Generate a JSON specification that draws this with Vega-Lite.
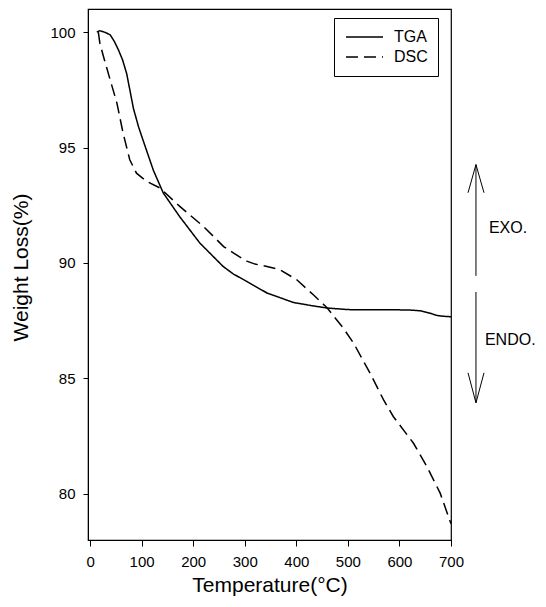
{
  "$schema": "https://vega.github.io/schema/vega-lite/v6.json",
  "width": 363,
  "height": 531,
  "autosize": {"type": "none"},
  "padding": {"left": 88, "top": 9, "right": 95, "bottom": 67},
  "background": "white",
  "config": {
    "font": "Liberation Sans",
    "view": {"stroke": "black", "strokeWidth": 1.2},
    "axis": {
      "grid": false,
      "domainColor": "black",
      "tickColor": "black",
      "labelColor": "black",
      "titleColor": "black",
      "labelFontSize": 15,
      "titleFontSize": 21,
      "titleFontWeight": "normal",
      "labelFont": "Liberation Sans",
      "titleFont": "Liberation Sans"
    }
  },
  "datasets": {
    "curves": [
      {"series": "TGA", "T": 13, "W": 100.0},
      {"series": "TGA", "T": 19, "W": 100.06},
      {"series": "TGA", "T": 30, "W": 99.98},
      {"series": "TGA", "T": 39, "W": 99.88},
      {"series": "TGA", "T": 47, "W": 99.6},
      {"series": "TGA", "T": 55, "W": 99.23},
      {"series": "TGA", "T": 63, "W": 98.8},
      {"series": "TGA", "T": 71, "W": 98.2},
      {"series": "TGA", "T": 78, "W": 97.4},
      {"series": "TGA", "T": 84, "W": 96.7},
      {"series": "TGA", "T": 94, "W": 95.9},
      {"series": "TGA", "T": 103, "W": 95.3},
      {"series": "TGA", "T": 123, "W": 94.0},
      {"series": "TGA", "T": 142, "W": 93.03},
      {"series": "TGA", "T": 174, "W": 92.0},
      {"series": "TGA", "T": 213, "W": 90.86},
      {"series": "TGA", "T": 258, "W": 89.85},
      {"series": "TGA", "T": 278, "W": 89.52},
      {"series": "TGA", "T": 304, "W": 89.2},
      {"series": "TGA", "T": 343, "W": 88.7},
      {"series": "TGA", "T": 368, "W": 88.5},
      {"series": "TGA", "T": 394, "W": 88.29},
      {"series": "TGA", "T": 430, "W": 88.15},
      {"series": "TGA", "T": 459, "W": 88.05},
      {"series": "TGA", "T": 500, "W": 87.98},
      {"series": "TGA", "T": 524, "W": 87.97},
      {"series": "TGA", "T": 595, "W": 87.97},
      {"series": "TGA", "T": 620, "W": 87.96},
      {"series": "TGA", "T": 640, "W": 87.93},
      {"series": "TGA", "T": 660, "W": 87.82},
      {"series": "TGA", "T": 672, "W": 87.73},
      {"series": "TGA", "T": 685, "W": 87.69},
      {"series": "TGA", "T": 700, "W": 87.67},
      {"series": "DSC", "T": 16, "W": 100.0},
      {"series": "DSC", "T": 19, "W": 99.52},
      {"series": "DSC", "T": 26, "W": 98.94},
      {"series": "DSC", "T": 39, "W": 97.93},
      {"series": "DSC", "T": 52, "W": 96.93},
      {"series": "DSC", "T": 64, "W": 95.63},
      {"series": "DSC", "T": 77, "W": 94.47},
      {"series": "DSC", "T": 90, "W": 93.89},
      {"series": "DSC", "T": 110, "W": 93.53},
      {"series": "DSC", "T": 136, "W": 93.24},
      {"series": "DSC", "T": 174, "W": 92.45},
      {"series": "DSC", "T": 220, "W": 91.58},
      {"series": "DSC", "T": 259, "W": 90.71},
      {"series": "DSC", "T": 280, "W": 90.4},
      {"series": "DSC", "T": 304, "W": 90.08},
      {"series": "DSC", "T": 320, "W": 89.95},
      {"series": "DSC", "T": 343, "W": 89.85},
      {"series": "DSC", "T": 368, "W": 89.71},
      {"series": "DSC", "T": 401, "W": 89.27},
      {"series": "DSC", "T": 433, "W": 88.62},
      {"series": "DSC", "T": 460, "W": 88.05},
      {"series": "DSC", "T": 491, "W": 87.18},
      {"series": "DSC", "T": 511, "W": 86.53},
      {"series": "DSC", "T": 543, "W": 85.23},
      {"series": "DSC", "T": 569, "W": 84.08},
      {"series": "DSC", "T": 588, "W": 83.35},
      {"series": "DSC", "T": 627, "W": 82.2},
      {"series": "DSC", "T": 653, "W": 81.19},
      {"series": "DSC", "T": 679, "W": 80.03},
      {"series": "DSC", "T": 700, "W": 78.7}
    ],
    "arrow": [
      {"seg": "shaftUp", "i": 0, "T": 748.4, "W": 94.26},
      {"seg": "shaftUp", "i": 1, "T": 748.4, "W": 89.44},
      {"seg": "shaftDown", "i": 0, "T": 748.4, "W": 88.74},
      {"seg": "shaftDown", "i": 1, "T": 748.4, "W": 83.94},
      {"seg": "headUp", "i": 0, "T": 733, "W": 93.04},
      {"seg": "headUp", "i": 1, "T": 748.4, "W": 94.26},
      {"seg": "headUp", "i": 2, "T": 764, "W": 93.04},
      {"seg": "headDown", "i": 0, "T": 733, "W": 85.24},
      {"seg": "headDown", "i": 1, "T": 748.4, "W": 83.94},
      {"seg": "headDown", "i": 2, "T": 764, "W": 85.24}
    ],
    "labels": [
      {"label": "EXO.", "T": 773.5, "W": 91.52},
      {"label": "ENDO.", "T": 765.8, "W": 86.67}
    ]
  },
  "layer": [
    {
      "data": {"name": "curves"},
      "mark": {"type": "line", "color": "black", "strokeWidth": 1.5},
      "encoding": {
        "x": {
          "field": "T", "type": "quantitative",
          "scale": {"domain": [-4, 700], "nice": false, "zero": false},
          "axis": {"values": [0, 100, 200, 300, 400, 500, 600, 700], "title": "Temperature(°C)", "tickSize": 6, "labelPadding": 8, "titlePadding": 5, "labelFlush": false}
        },
        "y": {
          "field": "W", "type": "quantitative",
          "scale": {"domain": [78, 101], "nice": false, "zero": false},
          "axis": {"values": [80, 85, 90, 95, 100], "title": "Weight Loss(%)", "tickSize": 5, "labelPadding": 8, "titlePadding": 18, "titleY": 258}
        },
        "strokeDash": {
          "field": "series", "type": "nominal",
          "scale": {"domain": ["TGA", "DSC"], "range": [[1, 0], [12, 6]]},
          "legend": {
            "title": null,
            "orient": "none",
            "legendX": 246,
            "legendY": 9,
            "strokeColor": "black",
            "padding": 10,
            "symbolType": "stroke",
            "symbolSize": 1369,
            "symbolOffset": 1,
            "symbolStrokeWidth": 1.5,
            "symbolStrokeColor": "black",
            "labelFontSize": 16,
            "labelColor": "black",
            "labelOffset": 10,
            "clipHeight": 18,
            "rowPadding": 2
          }
        },
        "detail": {"field": "series"}
      }
    },
    {
      "data": {"name": "arrow"},
      "mark": {"type": "line", "color": "black", "strokeWidth": 1, "clip": false},
      "encoding": {
        "x": {"field": "T", "type": "quantitative"},
        "y": {"field": "W", "type": "quantitative"},
        "detail": {"field": "seg"},
        "order": {"field": "i", "type": "quantitative"}
      }
    },
    {
      "data": {"name": "labels"},
      "mark": {"type": "text", "align": "left", "baseline": "middle", "fontSize": 16, "color": "black", "clip": false},
      "encoding": {
        "x": {"field": "T", "type": "quantitative"},
        "y": {"field": "W", "type": "quantitative"},
        "text": {"field": "label"}
      }
    }
  ]
}
